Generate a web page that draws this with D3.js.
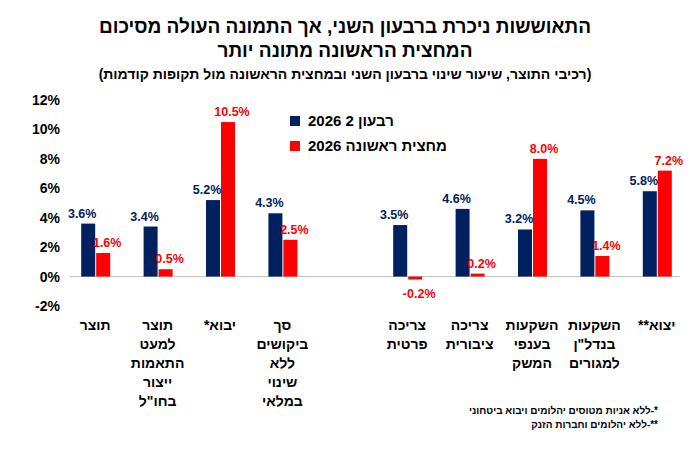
<!DOCTYPE html>
<html>
<head>
<script src="https://d3js.org/d3.v7.min.js"></script>
<style>
  body { margin: 0; background: #fff; }
  text { font-family: Arial, "Liberation Sans", sans-serif; font-weight: bold; }
</style>
</head>
<body>
<svg width="690" height="460"></svg>
<script>
// נתונים
var categories = ["תוצר", "תוצר|למעט|התאמות|ייצור|בחו\"ל", "יבוא*", "סך|ביקושים|ללא|שינוי|במלאי", "",
  "צריכה|פרטית", "צריכה|ציבורית", "השקעות|בענפי|המשק", "השקעות|בנדל\"ן|למגורים", "יצוא**"];
var q2 = [3.6, 3.4, 5.2, 4.3, null, 3.5, 4.6, 3.2, 4.5, 5.8];
var h1 = [1.6, 0.5, 10.5, 2.5, null, -0.2, 0.2, 8.0, 1.4, 7.2];
var yTicks = [-2, 0, 2, 4, 6, 8, 10, 12];
var seriesNames = ["רבעון 2 2026", "מחצית ראשונה 2026"];
var colors = ["#002060", "#ff0000"];

var svg = d3.select("svg");

// כותרות
svg.append("text").attr("x", 345).attr("y", 33).attr("text-anchor", "middle").attr("font-size", 19)
  .attr("direction", "rtl").text("התאוששות ניכרת ברבעון השני, אך התמונה העולה מסיכום");
svg.append("text").attr("x", 345).attr("y", 57).attr("text-anchor", "middle").attr("font-size", 19)
  .attr("direction", "rtl").text("המחצית הראשונה מתונה יותר");
svg.append("text").attr("x", 345).attr("y", 79).attr("text-anchor", "middle").attr("font-size", 14)
  .attr("direction", "rtl").text("(רכיבי התוצר, שיעור שינוי ברבעון השני ובמחצית הראשונה מול תקופות קודמות)");

var x = d3.scaleBand().domain(d3.range(categories.length)).range([64, 688]).paddingInner(0);
var y = d3.scaleLinear().domain([-2, 12]).range([306, 100]);

// ציר Y
svg.append("g").attr("transform", "translate(70,0)")
  .call(d3.axisLeft(y).tickValues(yTicks).tickFormat(function(d) { return d + "%"; }).tickSize(0).tickPadding(10))
  .call(function(g) { g.select(".domain").remove(); })
  .selectAll("text").attr("font-size", 14).attr("fill", "#000");

// קו אפס
svg.append("line").attr("x1", 70).attr("x2", 680).attr("y1", y(0)).attr("y2", y(0))
  .attr("stroke", "#bfbfbf").attr("stroke-width", 1);

var bw = 14;
var idx = d3.range(categories.length).filter(function(i) { return q2[i] !== null; });

[q2, h1].forEach(function(s, k) {
  var g = svg.append("g");
  idx.forEach(function(i) {
    var cx = x(i) + x.bandwidth() / 2;
    var bx = k === 0 ? cx - bw : cx + 1;
    g.append("rect").attr("x", bx).attr("width", bw)
      .attr("y", y(Math.max(0, s[i]))).attr("height", Math.abs(y(s[i]) - y(0)))
      .attr("fill", colors[k]);
    var ly = s[i] >= 0 ? y(s[i]) - 6 : y(s[i]) + 18;
    var lx = bx + bw / 2 + (k === 0 ? -6 : 4);
    g.append("text").attr("x", lx).attr("y", ly).attr("text-anchor", "middle")
      .attr("font-size", 12.5).attr("fill", colors[k]).text(s[i].toFixed(1) + "%");
  });
});

// תוויות קטגוריות
categories.forEach(function(c, i) {
  if (!c) return;
  var t = svg.append("text").attr("x", x(i) + x.bandwidth() / 2).attr("y", 330)
    .attr("text-anchor", "middle").attr("font-size", 14).attr("direction", "rtl");
  c.split("|").forEach(function(line, j) {
    t.append("tspan").attr("x", x(i) + x.bandwidth() / 2).attr("dy", j === 0 ? 0 : 19).text(line);
  });
});

// מקרא
seriesNames.forEach(function(n, k) {
  svg.append("rect").attr("x", 290).attr("y", 116 + k * 25).attr("width", 10).attr("height", 10).attr("fill", colors[k]);
  svg.append("text").attr("x", 308).attr("y", 126 + k * 25).attr("font-size", 15).attr("direction", "ltr").text(n);
});

// הערות שוליים
svg.append("text").attr("x", 658).attr("y", 414).attr("text-anchor", "start").attr("font-size", 10)
  .attr("font-weight", "normal").attr("direction", "rtl").text("*-ללא אניות מטוסים יהלומים ויבוא ביטחוני");
svg.append("text").attr("x", 658).attr("y", 428).attr("text-anchor", "start").attr("font-size", 10)
  .attr("font-weight", "normal").attr("direction", "rtl").text("**-ללא יהלומים וחברות הזנק");
</script>
</body>
</html>
